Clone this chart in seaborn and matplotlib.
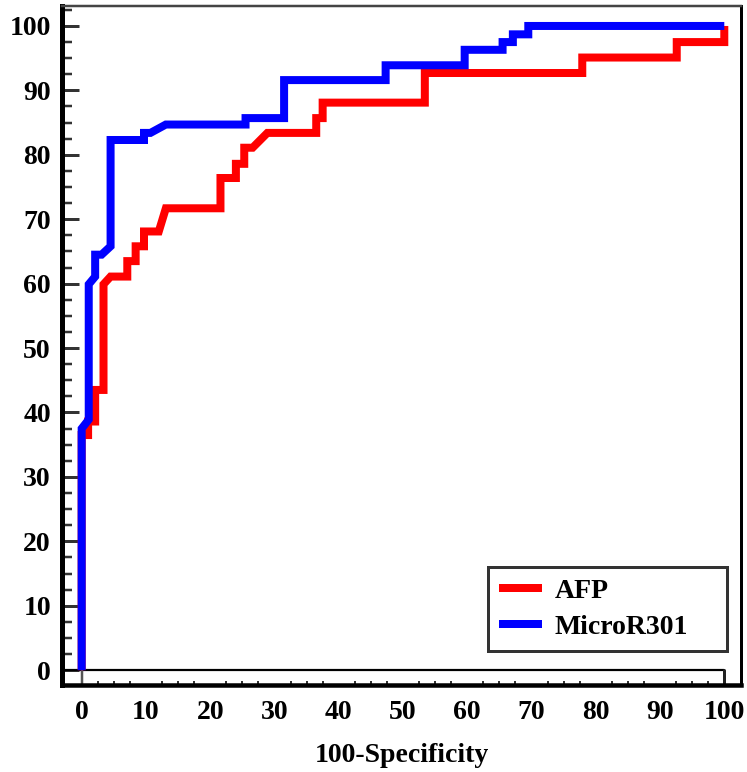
import pandas as pd
import numpy as np
import seaborn as sns
import matplotlib as mpl
mpl.use("Agg")
import matplotlib.pyplot as plt
from matplotlib.ticker import MultipleLocator, FixedLocator

# ROC 곡선 좌표 (100-Specificity, Sensitivity) - 그림에서 읽은 값
afp_x = [0, 0, 1.0, 1.0, 2.1, 2.1, 3.4, 3.4, 4.5, 7.1, 7.1, 8.4, 8.4, 9.7, 9.7, 12.0,
         13.1, 21.6, 21.6, 24.0, 24.0, 25.3, 25.3, 26.6, 28.9, 36.5, 36.5, 37.5, 37.5,
         53.4, 53.4, 77.9, 77.9, 92.6, 92.6, 100, 100]
afp_y = [0, 36.5, 36.5, 38.6, 38.6, 43.5, 43.5, 59.9, 61.1, 61.1, 63.5, 63.5, 65.8, 65.8,
         68.1, 68.1, 71.7, 71.7, 76.4, 76.4, 78.6, 78.6, 81.1, 81.1, 83.4, 83.4, 85.7,
         85.7, 88.1, 88.1, 92.7, 92.7, 95.1, 95.1, 97.5, 97.5, 100]

mir_x = [0, 0, 1.1, 1.1, 2.1, 2.1, 3.1, 4.5, 4.5, 9.7, 9.7, 10.7, 13.1, 25.5, 25.5, 31.5,
         31.5, 47.3, 47.3, 59.6, 59.6, 65.5, 65.5, 67.1, 67.1, 69.5, 69.5, 100]
mir_y = [0, 37.5, 38.9, 59.9, 61.1, 64.5, 64.5, 65.8, 82.3, 82.3, 83.4, 83.4, 84.7, 84.7,
         85.7, 85.7, 91.6, 91.6, 93.9, 93.9, 96.3, 96.3, 97.5, 97.5, 98.7, 98.7, 100, 100]

labels = ["AFP", "MicroR301"]
colors = ["#ff0000", "#0000ff"]

df = pd.concat([
    pd.DataFrame({"x": afp_x, "y": afp_y, "marker": labels[0]}),
    pd.DataFrame({"x": mir_x, "y": mir_y, "marker": labels[1]}),
], ignore_index=True)

sns.set_style("ticks")
plt.rcParams["font.family"] = ["Liberation Serif", "DejaVu Serif"]
plt.rcParams["font.weight"] = "bold"
plt.rcParams["text.color"] = "black"
plt.rcParams["xtick.labelcolor"] = "black"
plt.rcParams["ytick.labelcolor"] = "black"
plt.rcParams["axes.labelcolor"] = "black"

fig = plt.figure(figsize=(7.47, 7.72), dpi=100)
ax = fig.add_axes([62 / 747, 1 - 685 / 772, (741 - 62) / 747, (685 - 6) / 772])

px = 0.72  # 1 px in points
lw = 8 * px

sns.lineplot(data=df, x="x", y="y", hue="marker", units="marker", estimator=None,
             sort=False, palette=colors, linewidth=lw, ax=ax, legend=False,
             solid_joinstyle="miter", solid_capstyle="butt")

ax.set_xlim(-3.06, 102.6)
ax.set_ylim(-2.3, 103.1)

# 축 내부 보조선 (y=0 선, x=0 / x=100 세로선)
ax.plot([-3.06, 100], [0, 0], color="black", lw=2.2 * px, zorder=1)
ax.plot([100, 100], [-2.3, 0], color="#222222", lw=3 * px, zorder=1)
ax.plot([0, 0], [-2.3, 0], color="#555555", lw=2.5 * px, zorder=1)

# spines
ax.spines["left"].set_linewidth(5 * px)
ax.spines["bottom"].set_linewidth(4.5 * px)
ax.spines["right"].set_linewidth(3 * px)
ax.spines["top"].set_linewidth(2.5 * px)
ax.spines["left"].set_color("black")
ax.spines["bottom"].set_color("black")
ax.spines["right"].set_color("black")
ax.spines["top"].set_color("#444444")

ticks = np.arange(0, 101, 10)
ax.set_xticks(ticks)
ax.set_yticks(ticks)
ax.xaxis.set_minor_locator(FixedLocator([v for v in np.arange(0, 100.1, 2.5) if v % 10 != 0]))
ax.yaxis.set_minor_locator(MultipleLocator(2.5))

ax.tick_params(axis="y", which="major", direction="in", length=17 * px, width=3 * px,
               color="#333333", pad=8, labelsize=20)
ax.tick_params(axis="y", which="minor", direction="in", length=10 * px, width=2.5 * px,
               color="#333333")
ax.tick_params(axis="x", which="major", direction="in", length=0, pad=11, labelsize=20)
ax.tick_params(axis="x", which="minor", direction="in", length=4 * px, width=2 * px,
               color="#333333")
for lab in ax.get_xticklabels() + ax.get_yticklabels():
    lab.set_fontweight("bold")

ax.set_xlabel("100-Specificity", fontsize=20, fontweight="bold", labelpad=13)
ax.set_ylabel("")

handles = [plt.Line2D([], [], color=c, lw=lw, solid_capstyle="butt") for c in colors]
leg = ax.legend(handles, labels, loc="upper left", mode="expand",
                bbox_to_anchor=(488 / 747, 1 - 651 / 772, (727 - 488) / 747, 84 / 772),
                bbox_transform=fig.transFigure,
                borderaxespad=0, fancybox=False, framealpha=1, edgecolor="#333333",
                prop={"family": "Liberation Serif", "weight": "bold", "size": 20},
                handlelength=1.55, handletextpad=0.45, borderpad=0.4, labelspacing=0.38)
leg.get_frame().set_linewidth(3 * px)

fig.savefig("out.png", dpi=100)
